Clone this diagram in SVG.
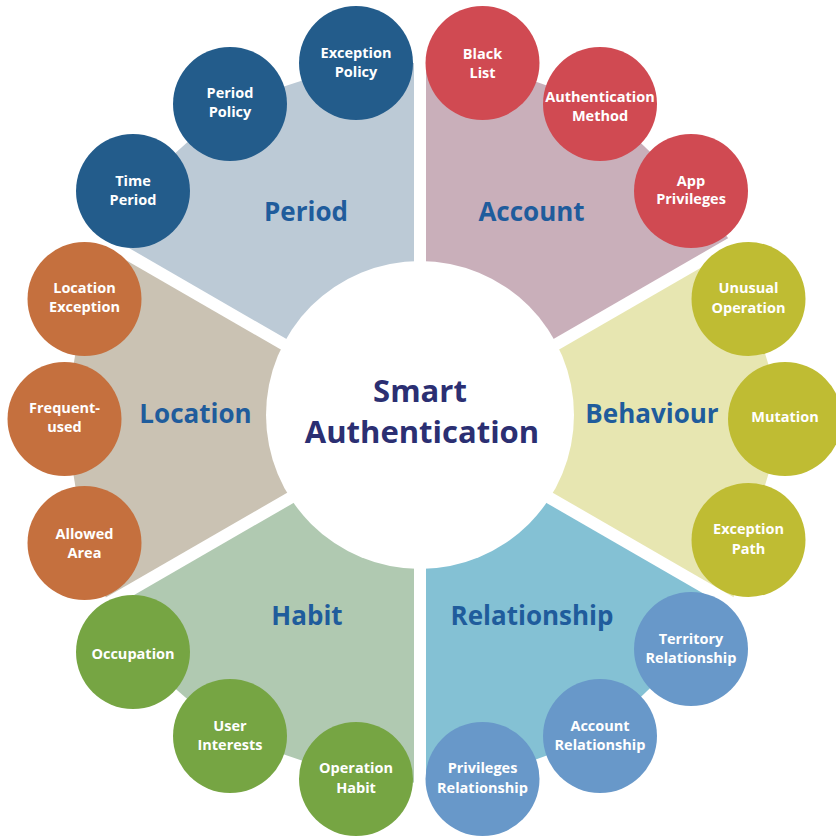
<svg xmlns="http://www.w3.org/2000/svg" width="836" height="836" viewBox="0 0 836 836">
<style>
.lbl{font-family:"Open Sans","Liberation Sans",sans-serif;font-weight:700;font-size:14.5px;fill:#ffffff;text-anchor:middle}
.sec{font-family:"Open Sans","Liberation Sans",sans-serif;font-weight:700;font-size:26px;fill:#1f5c9c;text-anchor:middle}
.ctr{font-family:"Open Sans","Liberation Sans",sans-serif;font-weight:700;font-size:31px;fill:#2b2f72;text-anchor:middle}
.sep{stroke:#ffffff;stroke-width:12;fill:none}
.cPeriod{fill:#235c8b}.cAccount{fill:#d04a52}.cBehaviour{fill:#bfbc33}
.cRel{fill:#6898c9}.cHabit{fill:#76a543}.cLoc{fill:#c5703e}
</style>
<rect width="836" height="836" fill="#ffffff"/>
<g id="sectors">
<polygon id="sector-period" points="420,423 420,63 356,63 230,104 133,191 108,243" fill="#bccad6"/>
<polygon id="sector-account" points="420,423 420,63 482.5,63 600,104 691,191 732,243" fill="#c9afba"/>
<polygon id="sector-behaviour" points="420,423 732,243 748.5,299 785,419 748.5,540 732,603" fill="#e7e6b1"/>
<polygon id="sector-relationship" points="420,423 732,603 691,649 600,736 482.5,779 420,783" fill="#84c1d4"/>
<polygon id="sector-habit" points="420,423 420,783 356,779 230,736 133,652 108,603" fill="#b0c9b1"/>
<polygon id="sector-location" points="420,423 108,603 84.5,543 64.5,419 84.5,299 108,243" fill="#cac2b3"/>
</g>
<g id="connectors">
<line class="sep" x1="420" y1="423" x2="420" y2="0"/>
<line class="sep" x1="420" y1="423" x2="420" y2="836"/>
<line class="sep" x1="420" y1="423" x2="56.3" y2="213"/>
<line class="sep" x1="420" y1="423" x2="56.3" y2="633"/>
<line class="sep" x1="420" y1="423" x2="783.7" y2="213"/>
<line class="sep" x1="420" y1="423" x2="783.7" y2="633"/>
</g>
<g id="center">
<circle cx="420" cy="415" r="154" fill="#ffffff"/>
<text class="ctr" x="420" y="402">Smart</text>
<text class="ctr" x="422" y="443">Authentication</text>
</g>
<g id="labels">
<text class="sec" x="306" y="221">Period</text>
<text class="sec" x="531.5" y="221">Account</text>
<text class="sec" x="195.5" y="423">Location</text>
<text class="sec" x="652" y="423">Behaviour</text>
<text class="sec" x="307" y="625">Habit</text>
<text class="sec" x="532" y="625">Relationship</text>
</g>
<g id="node-exception-policy"><circle class="cPeriod" cx="356" cy="63" r="57"/><text class="lbl" x="356" y="58">Exception</text><text class="lbl" x="356" y="77">Policy</text></g>
<g id="node-period-policy"><circle class="cPeriod" cx="230" cy="104" r="57"/><text class="lbl" x="230" y="98">Period</text><text class="lbl" x="230" y="117">Policy</text></g>
<g id="node-time-period"><circle class="cPeriod" cx="133" cy="191" r="57"/><text class="lbl" x="133" y="186">Time</text><text class="lbl" x="133" y="205">Period</text></g>
<g id="node-location-exception"><circle class="cLoc" cx="84.5" cy="299" r="57"/><text class="lbl" x="84.5" y="293">Location</text><text class="lbl" x="84.5" y="312">Exception</text></g>
<g id="node-frequent-used"><circle class="cLoc" cx="64.5" cy="419" r="57"/><text class="lbl" x="64.5" y="413">Frequent-</text><text class="lbl" x="64.5" y="432">used</text></g>
<g id="node-allowed-area"><circle class="cLoc" cx="84.5" cy="543" r="57"/><text class="lbl" x="84.5" y="539">Allowed</text><text class="lbl" x="84.5" y="558">Area</text></g>
<g id="node-occupation"><circle class="cHabit" cx="133" cy="652" r="57"/><text class="lbl" x="133" y="659">Occupation</text></g>
<g id="node-user-interests"><circle class="cHabit" cx="230" cy="736" r="57"/><text class="lbl" x="230" y="731">User</text><text class="lbl" x="230" y="750">Interests</text></g>
<g id="node-operation-habit"><circle class="cHabit" cx="356" cy="779" r="57"/><text class="lbl" x="356" y="773">Operation</text><text class="lbl" x="356" y="793">Habit</text></g>
<g id="node-black-list"><circle class="cAccount" cx="482.5" cy="63" r="57"/><text class="lbl" x="482.5" y="59">Black</text><text class="lbl" x="482.5" y="78">List</text></g>
<g id="node-authentication-method"><circle class="cAccount" cx="600" cy="104" r="57"/><text class="lbl" x="600" y="102">Authentication</text><text class="lbl" x="600" y="121">Method</text></g>
<g id="node-app-privileges"><circle class="cAccount" cx="691" cy="191" r="57"/><text class="lbl" x="691" y="186">App</text><text class="lbl" x="691" y="204">Privileges</text></g>
<g id="node-unusual-operation"><circle class="cBehaviour" cx="748.5" cy="299" r="57"/><text class="lbl" x="748.5" y="293">Unusual</text><text class="lbl" x="748.5" y="313">Operation</text></g>
<g id="node-mutation"><circle class="cBehaviour" cx="785" cy="419" r="57"/><text class="lbl" x="785" y="422">Mutation</text></g>
<g id="node-exception-path"><circle class="cBehaviour" cx="748.5" cy="540" r="57"/><text class="lbl" x="748.5" y="534">Exception</text><text class="lbl" x="748.5" y="554">Path</text></g>
<g id="node-territory-relationship"><circle class="cRel" cx="691" cy="649" r="57"/><text class="lbl" x="691" y="644">Territory</text><text class="lbl" x="691" y="663">Relationship</text></g>
<g id="node-account-relationship"><circle class="cRel" cx="600" cy="736" r="57"/><text class="lbl" x="600" y="731">Account</text><text class="lbl" x="600" y="750">Relationship</text></g>
<g id="node-privileges-relationship"><circle class="cRel" cx="482.5" cy="779" r="57"/><text class="lbl" x="482.5" y="773">Privileges</text><text class="lbl" x="482.5" y="793">Relationship</text></g>
</svg>
